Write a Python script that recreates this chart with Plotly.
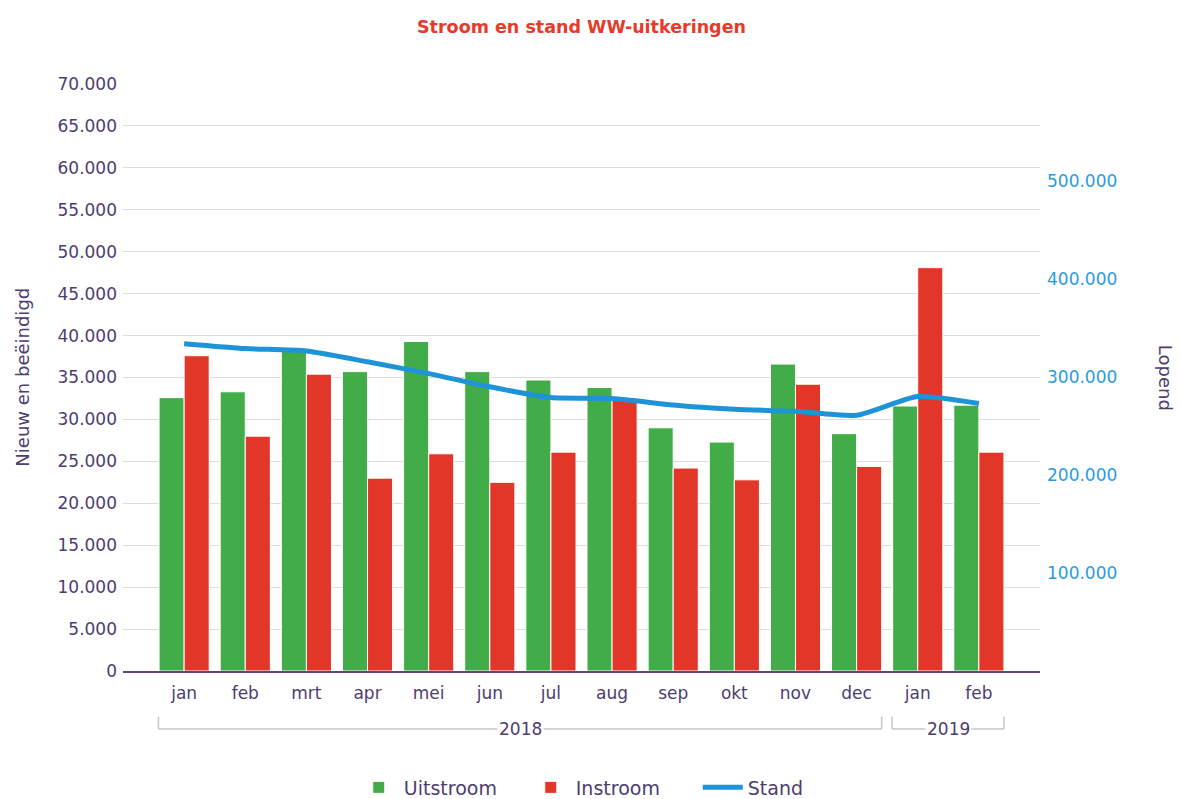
import plotly.graph_objects as go

# ---- data ----
months = ["jan", "feb", "mrt", "apr", "mei", "jun", "jul", "aug", "sep", "okt", "nov", "dec", "jan", "feb"]
years = ["2018"] * 12 + ["2019"] * 2
uitstroom = [32600, 33300, 38200, 35700, 39300, 35700, 34700, 33800, 29000, 27300, 36600, 28300, 31600, 31700]
instroom = [37600, 28000, 35400, 23000, 25900, 22500, 26100, 32300, 24200, 22800, 34200, 24400, 48100, 26100]
stand = [334000, 329000, 326500, 315500, 303500, 290000, 279000, 278000, 271500, 267000, 265000, 261000, 280000, 273000]

idx = list(range(len(months)))

TXT = "#4e3d70"
FONT = "DejaVu Sans"

fig = go.Figure()
fig.add_trace(go.Bar(x=idx, y=uitstroom, name="Uitstroom", marker=dict(color="#42ac48", line=dict(color="white", width=1))))
fig.add_trace(go.Bar(x=idx, y=instroom, name="Instroom", marker=dict(color="#e23728", line=dict(color="white", width=1))))
fig.add_trace(go.Scatter(x=idx, y=stand, name="Stand", yaxis="y2", mode="lines",
                         line=dict(color="#1f93d8", width=5, shape="spline", smoothing=0.6)))

# year groups -> brackets
groups = []
for i, yv in enumerate(years):
    if groups and groups[-1][0] == yv:
        groups[-1][2] = i
    else:
        groups.append([yv, i, i])

shapes = []
annotations = []
y_line = -0.0988
y_tick = -0.078
for name, a, b in groups:
    x0, x1 = a - 0.42, b + 0.41
    shapes.append(dict(type="line", xref="x", yref="paper", x0=x0, x1=x1, y0=y_line, y1=y_line,
                       line=dict(color="#c8c8c8", width=1.5)))
    for xe in (x0, x1):
        shapes.append(dict(type="line", xref="x", yref="paper", x0=xe, x1=xe, y0=y_line, y1=y_tick,
                           line=dict(color="#c8c8c8", width=1.5)))
    annotations.append(dict(x=(a + b) / 2, y=y_line, xref="x", yref="paper", text=name, showarrow=False,
                            bgcolor="white", font=dict(family=FONT, size=17, color=TXT),
                            xanchor="center", yanchor="middle", borderpad=1))

annotations.append(dict(x=-0.110, y=0.5, xref="paper", yref="paper", text="Nieuw en beëindigd", textangle=-90,
                        showarrow=False, font=dict(family=FONT, size=18, color=TXT), xanchor="center", yanchor="middle"))
annotations.append(dict(x=1.137, y=0.5, xref="paper", yref="paper", text="Lopend", textangle=90,
                        showarrow=False, font=dict(family=FONT, size=18, color=TXT), xanchor="center", yanchor="middle"))

fig.update_layout(
    width=1180, height=799,
    margin=dict(l=123, r=140, t=84, b=128, autoexpand=False),
    paper_bgcolor="white", plot_bgcolor="white",
    separators=",.",
    title=dict(text="<b>Stroom en stand WW-uitkeringen</b>", x=0.5, xref="paper", xanchor="center", y=0.966, yanchor="middle",
               font=dict(family=FONT, size=17.5, color="#e8392a")),
    font=dict(family=FONT, size=17, color=TXT),
    barmode="group", bargap=0.18, bargroupgap=0,
    xaxis=dict(range=[-1, 14], tickvals=idx, ticktext=months, showgrid=False, zeroline=False,
               showline=True, linecolor="#5e4585", linewidth=2, ticks="", ticklabelstandoff=6,
               tickfont=dict(size=17, color=TXT)),
    yaxis=dict(range=[0, 70000], dtick=5000, tickformat=",d", showgrid=True, gridcolor="#dedede", gridwidth=1,
               zeroline=False, ticks="", tickfont=dict(size=17, color=TXT), ticklabelstandoff=5),
    yaxis2=dict(range=[0, 599000], overlaying="y", side="right", tickvals=[100000, 200000, 300000, 400000, 500000],
                tickformat=",d", showgrid=False, zeroline=False, ticks="", ticklabelstandoff=6,
                tickfont=dict(size=17, color="#2b9be0")),
    legend=dict(orientation="h", x=0.533, xanchor="center", y=-0.1985, yanchor="middle",
                font=dict(family=FONT, size=19, color=TXT), itemwidth=40, traceorder="normal",
                entrywidth=117, entrywidthmode="pixels"),
    shapes=shapes, annotations=annotations,
)

fig.write_html("out.html", config={"displayModeBar": False}, post_script="document.body.style.margin='0';")
